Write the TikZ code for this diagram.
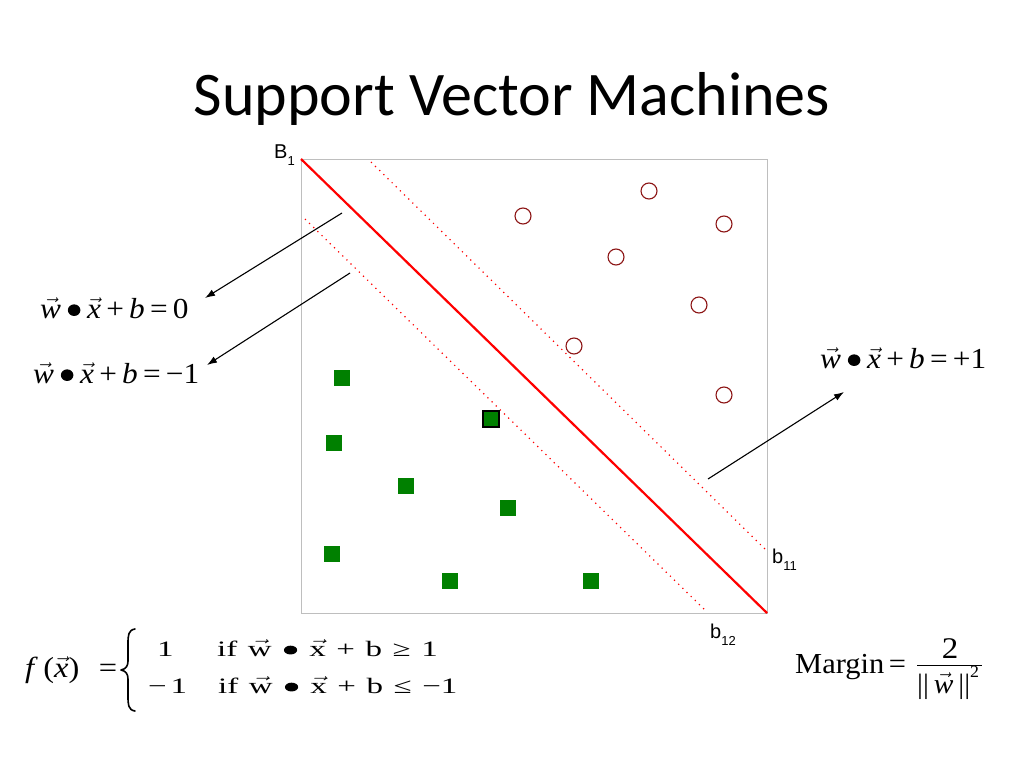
\documentclass[tikz,border=0pt]{standalone}
\usepackage{fontspec}
\usepackage{graphicx}
\usetikzlibrary{arrows.meta}
\newfontfamily\tms{Liberation Serif}
\newfontfamily\arl{Liberation Sans}
\newfontfamily\calfont{Carlito}
\newcommand{\vw}{$\vec{\hbox{\itshape w}}$}
\newcommand{\vx}{$\vec{\hbox{\itshape x}}$}
\newcommand{\uw}{$\vec{\hbox{w}}$}
\newcommand{\ux}{$\vec{\hbox{x}}$}
\newcommand{\bul}{\hspace{0.05em}\tikz[baseline=0pt,x=1pt,y=1pt]{\fill[black] (0,0.27em) circle[radius=0.2em];}\hspace{0.05em}}
\newcommand{\gp}{\hspace{0.32em}}
\definecolor{sqgreen}{RGB}{0,128,0}
\definecolor{circred}{RGB}{140,20,20}
\definecolor{boxgray}{RGB}{190,190,190}
\tikzset{
  eqn/.style={inner sep=0pt, font=\tms\fontsize{29}{34}\selectfont},
  rowtxt/.style={inner sep=0pt, anchor=base west, font=\tms\fontsize{22}{26}\selectfont},
  lbl/.style={inner sep=0pt, anchor=base west, font=\arl\fontsize{20}{24}\selectfont},
  circpt/.style={circle, draw=circred, line width=1.1pt, fill=white, minimum size=16pt, inner sep=0pt},
  sqpt/.style={rectangle, fill=sqgreen, minimum size=16pt, inner sep=0pt},
  sqsv/.style={rectangle, fill=sqgreen, draw=black, line width=1.3pt, minimum size=16pt, inner sep=0pt},
  hyper/.style={red, line width=2.2pt},
  marginline/.style={red, line width=1.2pt, dash pattern=on 1.2pt off 4.6pt},
  pointer/.style={black, line width=1.1pt, -{Latex[length=10pt,width=7pt]}},
  bracestroke/.style={black, line width=1.6pt, line cap=round, line join=round},
}
\begin{document}
\begin{tikzpicture}[x=1pt,y=-1pt]
\useasboundingbox (0,0) rectangle (1024,768);
% title
\node[inner sep=0pt, anchor=base, font=\calfont\fontsize{62}{70}\selectfont] (title) at (512,115) {Support Vector Machines};
% plot box
\draw[boxgray, line width=0.9pt] (301,159) rectangle (767,613);
% hyperplanes
\coordinate (B1a) at (301,159);
\coordinate (B1b) at (767,613);
\coordinate (b11a) at (371,162);
\coordinate (b11b) at (768,552);
\coordinate (b12a) at (305,219);
\coordinate (b12b) at (707,612);
\draw[marginline] (b11a) -- (b11b);
\draw[marginline] (b12a) -- (b12b);
\draw[hyper] (B1a) -- (B1b);
% labels
\node[lbl] (lB1) at (274,158) {B\raisebox{-0.35em}{\fontsize{13}{15}\selectfont 1}};
\node[lbl] (lb11) at (772,563) {b\raisebox{-0.35em}{\fontsize{13}{15}\selectfont 11}};
\node[lbl] (lb12) at (710,638) {b\raisebox{-0.35em}{\fontsize{13}{15}\selectfont 12}};
% circles
\foreach \n/\p in {c1/{(523,216)}, c2/{(649,191)}, c3/{(724,224)}, c4/{(616,257)}, c5/{(699,305)}, c6/{(574,346)}, c7/{(724,395)}}
  \node[circpt] (\n) at \p {};
% squares
\foreach \n/\p in {s1/{(342,378)}, s2/{(334,443)}, s3/{(406,486)}, s4/{(508,508)}, s5/{(332,554)}, s6/{(450,581)}, s7/{(591,581)}}
  \node[sqpt] (\n) at \p {};
\node[sqsv] (s8) at (491,419) {};
% equations
\node[eqn, anchor=base west] (eq0) at (40,318) {\scalebox{1.08}[1]{\vw\,\bul\,\vx\,+\,\textit{b}\,=\,0}};
\node[eqn, anchor=base west] (eqm) at (33,383) {\scalebox{1.08}[1]{\vw\,\bul\,\vx\,+\,\textit{b}\,=\,−1}};
\node[eqn, anchor=base west] (eqp) at (820,368) {\scalebox{1.08}[1]{\vw\,\bul\,\vx\,+\,\textit{b}\,=\,+1}};
% pointers
\coordinate (t0) at (342,213);
\coordinate (h0) at (205,298);
\coordinate (tm) at (350,273);
\coordinate (hm) at (207,365);
\coordinate (tp) at (708,479);
\coordinate (hp) at (844,392);
\draw[pointer] (t0) -- (h0);
\draw[pointer] (tm) -- (hm);
\draw[pointer] (tp) -- (hp);
% decision function
\node[eqn, anchor=base west, font=\tms\fontsize{29}{34}\selectfont] (fx) at (25,677) {\scalebox{1.12}[1]{\textit{f}\,(\vx)\hspace{0.6em}=}};
\draw[bracestroke] (135,629) .. controls (128,630) and (128,636) .. (128,644)
  -- (128,661) .. controls (128,666) and (126,669) .. (121,670)
  .. controls (126,671) and (128,674) .. (128,679)
  -- (128,696) .. controls (128,704) and (128,710) .. (135,711);
\node[rowtxt] (r1a) at (157,656) {\scalebox{1.5}[1]{1}};
\node[rowtxt] (r1b) at (217,656) {\scalebox{1.5}[1]{if\gp\uw\gp\bul\gp\ux\gp+\gp b\gp≥\gp1}};
\node[rowtxt] (r2a) at (148,693) {\scalebox{1.5}[1]{−\hspace{0.12em}1}};
\node[rowtxt] (r2b) at (218,693) {\scalebox{1.5}[1]{if\gp\uw\gp\bul\gp\ux\gp+\gp b\gp≤\gp−1}};
% margin
\node[eqn, anchor=base west, font=\tms\fontsize{29}{34}\selectfont] (mg) at (795,673) {\scalebox{1.05}[1]{Margin\hspace{0.15em}=}};
\node[eqn, anchor=base, font=\tms\fontsize{30}{34}\selectfont] (num) at (950,658) {\scalebox{1.1}[1]{2}};
\draw[black, line width=1pt] (917,665) -- (982,665);
\node[eqn, anchor=base west, font=\tms\fontsize{28}{32}\selectfont] (den) at (917,693) {\scalebox{1.05}[1]{||\,\vw\,||\raisebox{0.55em}{\fontsize{17}{19}\selectfont 2}}};
\end{tikzpicture}
\end{document}
